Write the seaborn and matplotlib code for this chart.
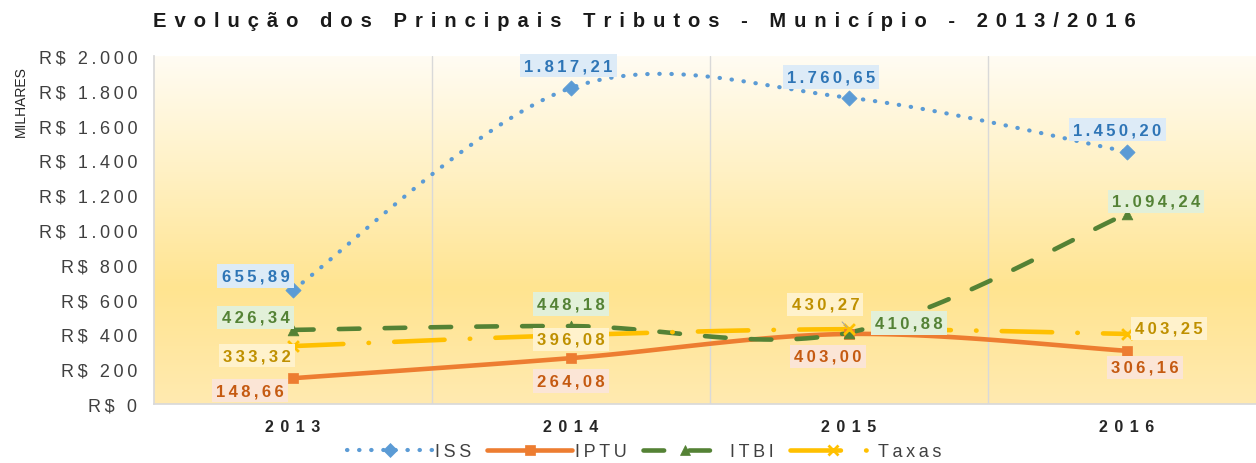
import numpy as np
import pandas as pd
import matplotlib
matplotlib.use("Agg")
import matplotlib.pyplot as plt
from matplotlib.colors import LinearSegmentedColormap
from matplotlib.lines import Line2D
import seaborn as sns

anos = ["2013", "2014", "2015", "2016"]
iss = [655.89, 1817.21, 1760.65, 1450.20]
iptu = [148.66, 264.08, 403.00, 306.16]
itbi = [426.34, 448.18, 410.88, 1094.24]
taxas = [333.32, 396.08, 430.27, 403.25]
yticks = [0, 200, 400, 600, 800, 1000, 1200, 1400, 1600, 1800, 2000]


def br(v, dec=2):
    s = f"{v:,.{dec}f}"
    return s.replace(",", "X").replace(".", ",").replace("X", ".")


def sp(s, n=1):
    # widen text a bit (the reference is stretched horizontally)
    return ("\u2009" * n).join(s)


def smooth(y, n=40):
    # bezier smoothing like excel's "smoothed line"
    y = np.asarray(y, float)
    x = np.arange(len(y), dtype=float)
    xs, ys = [], []
    for i in range(len(y) - 1):
        i0, i3 = max(i - 1, 0), min(i + 2, len(y) - 1)
        px = [x[i], x[i] + (x[i + 1] - x[i0]) / 6, x[i + 1] - (x[i3] - x[i]) / 6, x[i + 1]]
        py = [y[i], y[i] + (y[i + 1] - y[i0]) / 6, y[i + 1] - (y[i3] - y[i]) / 6, y[i + 1]]
        t = np.linspace(0, 1, n)
        b = [(1 - t) ** 3, 3 * t * (1 - t) ** 2, 3 * t ** 2 * (1 - t), t ** 3]
        xs.append(sum(bb * p for bb, p in zip(b, px)))
        ys.append(sum(bb * p for bb, p in zip(b, py)))
    return np.concatenate(xs), np.concatenate(ys)


sns.set_theme(style="white")
plt.rcParams['font.family'] = ['Liberation Sans', 'DejaVu Sans']

fig = plt.figure(figsize=(12.56, 4.64), dpi=100)
ax = fig.add_axes([0.1226, 0.127, 0.8774, 0.75])
XMAX = 3.464

# background gradient
cmap = LinearSegmentedColormap.from_list("bg", ["#fffcf3", "#fff1c4", "#ffe490", "#ffeab0"])
grad = np.linspace(0, 1, 256).reshape(-1, 1)
ax.imshow(grad, cmap=cmap, aspect="auto", extent=[-0.5, XMAX, 0, 2000],
          origin="upper", zorder=0)

# name, values, line colour, dash, marker, label colour, label box
series = [
    ("ISS", iss, "#5b9bd5", (0, (0.1, 2.8)), "D", "#2e75b6", "#ddebf7"),
    ("IPTU", iptu, "#ed7d31", "-", "s", "#c55a11", "#fbe5d6"),
    ("ITBI", itbi, "#548235", (0, (4.5, 5.5)), "^", "#548235", "#e2f0d9"),
    ("Taxas", taxas, "#ffc000", (0, (11, 5.5, 0.1, 5.5)), "x", "#bf9000", "#fff2cc"),
]

offsets = {
    "ISS": [(-27, 10), (-2, 16), (-13, 15), (-7, 16)],
    "IPTU": [(-31, -9), (0, -16.5), (-15, -16), (13, -12)],
    "ITBI": [(-27, 9), (0, 16), (43, 7), (21, 9)],
    "Taxas": [(-26, -7), (0, -3), (-17, 18), (30, 4)],
}

handles = []
for name, vals, col, ls, mk, tcol, bcol in series:
    cap = "round" if ls != "-" else "butt"
    lw = 3.0 if name == "ISS" else 3.3
    sx, sy = smooth(vals)
    df = pd.DataFrame({"x": sx, "y": sy})
    sns.lineplot(data=df, x="x", y="y", ax=ax, color=col, linewidth=lw,
                 linestyle=ls, sort=False, estimator=None, zorder=3,
                 dash_capstyle=cap)
    pts = pd.DataFrame({"x": np.arange(len(vals)), "y": vals})
    if mk == "x":
        sns.scatterplot(data=pts, x="x", y="y", ax=ax, color=col, marker=mk,
                        s=60, linewidth=2, zorder=4)
    else:
        sns.scatterplot(data=pts, x="x", y="y", ax=ax, color=col, marker=mk,
                        s=60, edgecolor=col, linewidth=0.5, zorder=4)
    for i, v in enumerate(vals):
        arrow = None
        if name == "Taxas" and i == 2:
            arrow = dict(arrowstyle="-", color="#a6a6a6", lw=0.8, shrinkA=6, shrinkB=2)
        ax.annotate(sp(br(v)), (i, v), xytext=offsets[name][i], textcoords="offset points",
                    ha="center", va="center", fontsize=12, fontweight="bold", color=tcol,
                    bbox=dict(boxstyle="square,pad=0.25", fc=bcol, ec="none"),
                    arrowprops=arrow, zorder=5)
    handles.append(Line2D([0], [0], color=col, lw=lw, linestyle=ls, marker=mk,
                          markersize=7, markeredgecolor=col,
                          markeredgewidth=2 if mk == "x" else 0.5,
                          dash_capstyle=cap))

ax.set_xlim(-0.5, XMAX)
ax.set_ylim(0, 2000)
ax.set_yticks(yticks)
ax.set_yticklabels([sp("R$ " + br(v, 0)) for v in yticks], fontsize=13, color="#404040")
ax.set_xticks(range(len(anos)))
ax.set_xticklabels([sp(a, 2) for a in anos], fontsize=11.5, fontweight="bold", color="#262626")
ax.tick_params(axis="y", length=0, pad=12)
ax.tick_params(axis="x", length=0, pad=11)
ax.set_xlabel("")
ax.set_ylabel("")
for xg in [0.5, 1.5, 2.5]:
    ax.axvline(xg, color="#d9d9d9", lw=1, zorder=1)
for s in ["top", "right"]:
    ax.spines[s].set_visible(False)
ax.spines["left"].set_color("#d9d9d9")
ax.spines["bottom"].set_color("#d9d9d9")

titulo = "Evolução dos Principais Tributos - Município - 2013/2016"
fig.text(0.513, 0.953, sp(titulo, 2), ha="center", va="center",
         fontsize=14.5, fontweight="bold", color="#1a1a1a")
fig.text(0.017, 0.782, "MILHARES", rotation=90, ha="center", va="center",
         fontsize=10, color="#262626")

fig.legend(handles, [sp(s[0]) for s in series], loc="center", bbox_to_anchor=(0.513, 0.024),
           ncol=4, frameon=False, handlelength=4.7, fontsize=13, columnspacing=0.9,
           handletextpad=0.15, labelcolor="#404040")

fig.savefig("out.png", dpi=100)
